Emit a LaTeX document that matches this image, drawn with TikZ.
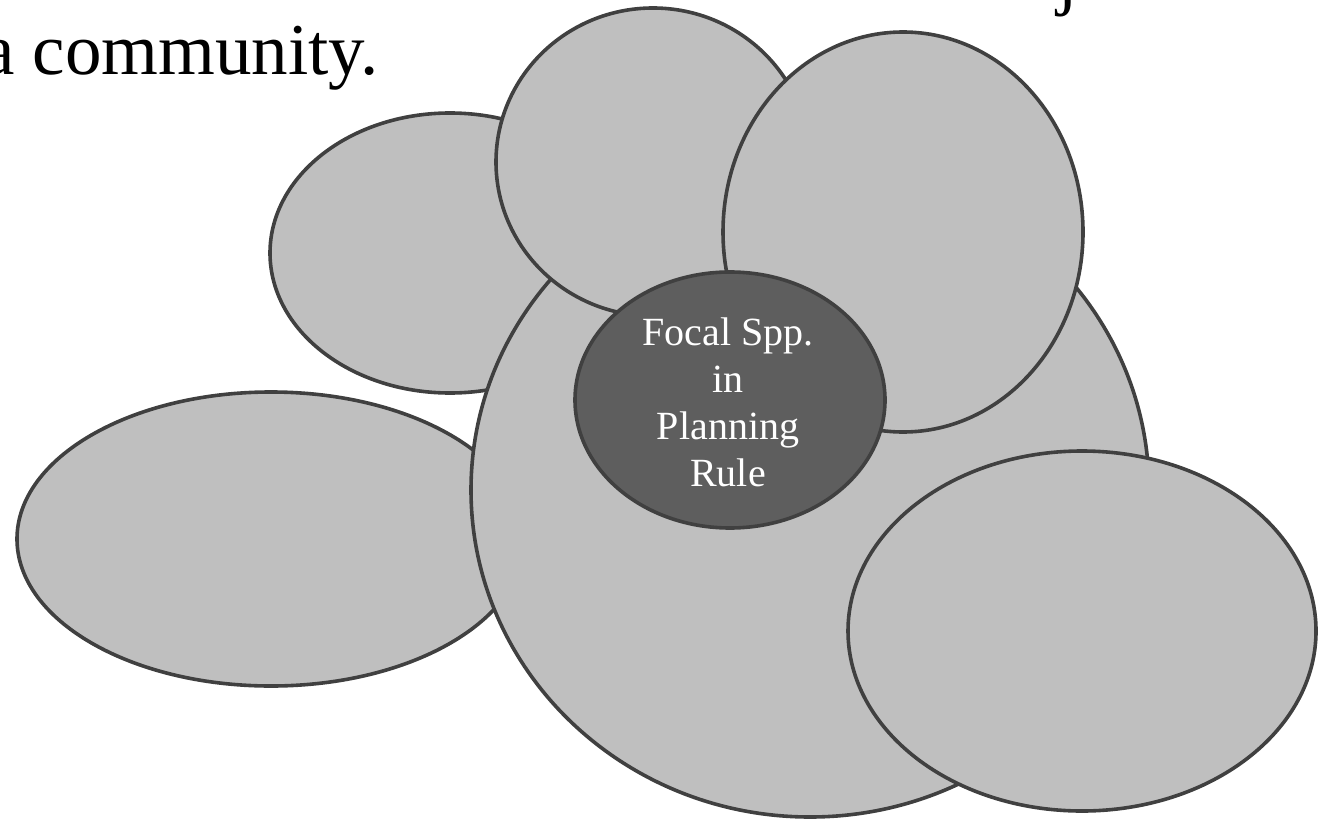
\documentclass[tikz,border=0pt]{standalone}
\usepackage{fontspec}
\setmainfont{Liberation Serif}
\definecolor{blobfill}{HTML}{BFBFBF}
\definecolor{blobline}{HTML}{404040}
\definecolor{focalfill}{HTML}{5E5E5E}
\begin{document}
\begin{tikzpicture}[x=1pt,y=-1pt,
  blob/.style={draw=blobline,fill=blobfill,line width=3.6pt},
  focal/.style={draw=blobline,fill=focalfill,line width=3.6pt},
  headtext/.style={font=\fontsize{73}{86}\selectfont,inner sep=0pt,text=black}]
\useasboundingbox (0,0) rectangle (1321,821);
\clip (0,0) rectangle (1321,821);
% heading fragments
\node[headtext,anchor=base east] (head) at (379,75) {a community.};
\node[headtext,anchor=base west] (headj) at (1057,2) {j};
% blobs, back to front
\filldraw[blob] (271,539) ellipse [x radius=254,y radius=147];
\filldraw[blob] (450,253) ellipse [x radius=180,y radius=140];
\filldraw[blob] (810,490) ellipse [x radius=339,y radius=327];
\filldraw[blob] (653,162) ellipse [x radius=157,y radius=154];
\filldraw[blob] (903,232) ellipse [x radius=180,y radius=200];
\filldraw[blob] (1082,631) ellipse [x radius=234,y radius=180];
\filldraw[focal] (730,400) ellipse [x radius=155,y radius=128];
\node[text=white,align=center,font=\fontsize{40}{47}\selectfont,inner sep=0pt] (focaltext) at (728,402) {Focal Spp.\\in\\Planning\\Rule};
\end{tikzpicture}
\end{document}
